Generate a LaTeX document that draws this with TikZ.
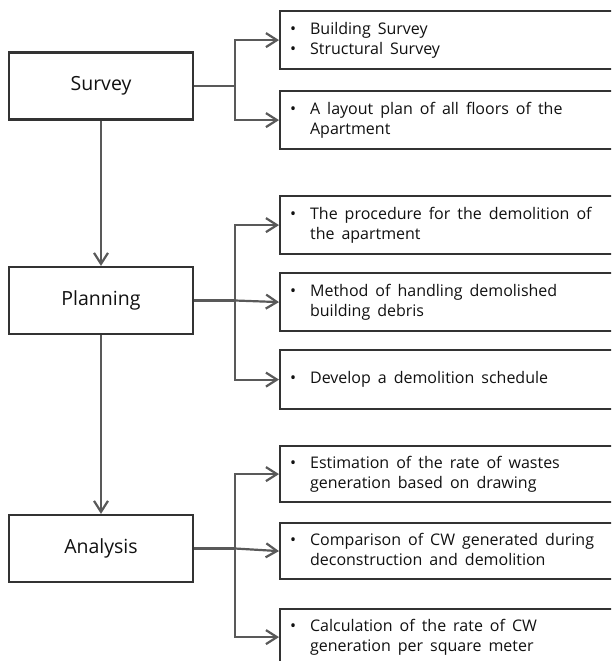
\documentclass[tikz,border=0pt]{standalone}
\usepackage{fontspec}
\setmainfont{Open Sans}
\usetikzlibrary{arrows.meta}
\definecolor{conncol}{HTML}{595959}
\definecolor{boxcol}{HTML}{333333}
\definecolor{txtcol}{HTML}{111111}
\newcommand{\blist}[1]{{\fontsize{16}{20}\selectfont\spaceskip=7pt plus 1pt minus 1pt\begin{tabular}{@{}p{20pt}@{}l@{}}#1\end{tabular}}}
\begin{document}
\begin{tikzpicture}[x=1pt,y=-1pt,
  mainbox/.style={draw=boxcol,line width=2.2pt,minimum width=184pt,minimum height=67pt,inner sep=0pt,
    text=txtcol,font=\fontsize{19.5}{22}\selectfont},
  itembox/.style={draw=boxcol,line width=2.2pt,anchor=north west,minimum width=360pt,
    text width=340pt,align=left,inner xsep=10pt,inner ysep=0pt,text=txtcol},
  conn/.style={draw=conncol,line width=2.2pt},
  arr/.style={conn,-{Straight Barb[length=11pt,width=14pt,line width=2.2pt]}}
]
\useasboundingbox (0,0) rectangle (611,661);
\fill[white] (0,0) rectangle (611,661);
\clip (0,0) rectangle (611,661);

% main boxes
\node[mainbox] (survey) at (101,86) {Survey};
\node[mainbox] (planning) at (101,300.5) {Planning};
\node[mainbox] (analysis) at (101,548.5) {Analysis};

% item boxes
\node[itembox,minimum height=58pt] (b1) at (279,10)
  {\blist{\textbullet & Building Survey\\ \textbullet & Structural Survey}};
\node[itembox,minimum height=58pt] (b2) at (279,90)
  {\blist{\textbullet & A layout plan of all floors of the\\ & Apartment}};
\node[itembox,minimum height=58pt] (b3) at (279,195)
  {\blist{\textbullet & The procedure for the demolition of\\ & the apartment}};
\node[itembox,minimum height=58pt] (b4) at (279,272)
  {\blist{\textbullet & Method of handling demolished\\ & building debris}};
\node[itembox,minimum height=59pt] (b5) at (279,349)
  {\blist{\textbullet & Develop a demolition schedule}};
\node[itembox,minimum height=56pt] (b6) at (279,445)
  {\blist{\textbullet & Estimation of the rate of wastes\\ & generation based on drawing}};
\node[itembox,minimum height=56pt] (b7) at (279,522)
  {\blist{\textbullet & Comparison of CW generated during\\ & deconstruction and demolition}};
\node[itembox,minimum height=56pt] (b8) at (279,608)
  {\blist{\textbullet & Calculation of the rate of CW\\ & generation per square meter}};

% junctions
\coordinate (j1) at (235,86);
\coordinate (j2) at (235,300.5);
\coordinate (j3) at (235,548.5);

% connectors
\draw[conn] (survey.east) -- (j1);
\draw[arr] (j1) |- (b1.west);
\draw[arr] (j1) |- (b2.west);

\draw[conn] (planning.east) -- (j2);
\draw[arr] (j2) |- (b3.west);
\draw[arr] (j2) -- (b4.west);
\draw[arr] (j2) |- (b5.west);

\draw[conn] (analysis.east) -- (j3);
\draw[arr] (j3) |- (b6.west);
\draw[arr] (j3) -- (b7.west);
\draw[arr] (j3) |- (b8.west);

\draw[arr] (survey.south) -- (planning.north);
\draw[arr] (planning.south) -- (analysis.north);
\end{tikzpicture}
\end{document}
